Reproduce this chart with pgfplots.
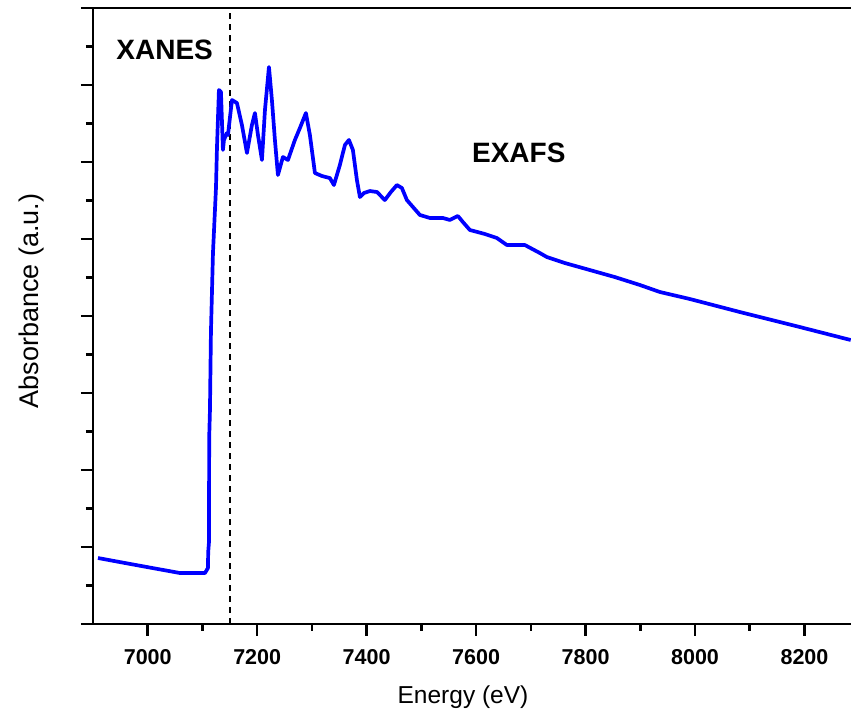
\documentclass[border=0pt]{standalone}
\usepackage{pgfplots}
\pgfplotsset{compat=1.18}
\usepackage{fontspec}
\setmainfont{Liberation Sans}

\begin{document}
\begin{tikzpicture}
\begin{axis}[
  name=ax,
  scale only axis,
  width=758pt, height=616pt,
  xmin=6900, xmax=8285,
  ymin=0, ymax=8,
  axis x line*=bottom,
  axis y line*=left,
  axis line style={line width=2.8pt, -},
  tick align=outside,
  tick style={line width=2.6pt, black},
  major tick length=12pt,
  minor tick length=7pt,
  xtick={7000,7200,7400,7600,7800,8000,8200},
  minor x tick num=1,
  ytick={0,1,2,3,4,5,6,7,8},
  yticklabels={},
  minor y tick num=1,
  /pgf/number format/assume math mode=true,
  /pgf/number format/1000 sep={},
  xticklabel style={font=\fontsize{21.5}{23}\selectfont\bfseries, yshift=-10pt},
  xlabel={Energy (eV)},
  ylabel={Absorbance (a.u.)},
  xlabel style={font=\fontsize{24.5}{27}\selectfont, yshift=-14pt, xshift=-9pt},
  ylabel style={font=\fontsize{27}{30}\selectfont, yshift=27pt, xshift=15pt},
  clip=true,
]
% top frame line (no right spine)
\draw[line width=2.8pt] (rel axis cs:0,1) -- (rel axis cs:1,1);

% boundary between XANES and EXAFS regions
\addplot[black, line width=1.6pt, dash pattern=on 6pt off 5pt] coordinates {(7150,0) (7150,8)};

\addplot[blue, line width=3.7pt, line join=round] coordinates {
(6909.1,0.857) (6960,0.79) (7010,0.725) (7058.9,0.662) (7104.6,0.662)
(7110.0,0.727) (7110.5,0.935) (7111.9,1.065) (7112.3,2.416) (7113.7,2.779)
(7115.5,3.792) (7119.2,4.818) (7124.7,5.662) (7126.5,6.182) (7130.1,6.935)
(7133.8,6.909) (7137.4,6.156) (7139.3,6.286) (7144.7,6.377) (7146.6,6.351)
(7153.9,6.805) (7163.0,6.766) (7172.1,6.481) (7181.3,6.117) (7190.4,6.481)
(7195.9,6.636) (7201.4,6.351) (7208.7,6.026) (7214.2,6.675) (7221.5,7.234)
(7226.9,6.805) (7232.4,6.286) (7237.9,5.831) (7247.0,6.065) (7256.2,6.026)
(7268.9,6.286) (7278.1,6.442) (7289.0,6.636) (7296.3,6.351) (7305.5,5.857)
(7318.3,5.818) (7332.8,5.792) (7340.2,5.701) (7351.1,5.961) (7360.3,6.221)
(7367.6,6.286) (7374.9,6.156) (7382.2,5.766) (7387.7,5.545) (7395.0,5.597)
(7406.0,5.623) (7418.8,5.610) (7433.3,5.506) (7444.3,5.610) (7455.3,5.701)
(7464.4,5.662) (7473.5,5.506) (7484.5,5.416) (7497.3,5.312) (7515.5,5.273)
(7539.3,5.273) (7552.1,5.247) (7566.7,5.299) (7575.8,5.221) (7588.6,5.117)
(7616.0,5.065) (7637.9,5.013) (7656.2,4.922) (7689.0,4.922) (7716.4,4.818)
(7729.2,4.766) (7762.1,4.688) (7807.8,4.597) (7853.4,4.506) (7899.1,4.403)
(7935.6,4.312) (7990.4,4.221) (8081.7,4.052) (8191.3,3.857) (8284.5,3.688)
};

\node[font=\fontsize{28}{30}\selectfont\bfseries] at (axis cs:7031,7.45) {XANES};
\node[font=\fontsize{28}{30}\selectfont\bfseries] at (axis cs:7678,6.12) {EXAFS};
\end{axis}
\pgfresetboundingbox
\path ([shift={(-93pt,-95pt)}]ax.south west) rectangle ([shift={(0pt,8pt)}]ax.north east);
\end{tikzpicture}
\end{document}
